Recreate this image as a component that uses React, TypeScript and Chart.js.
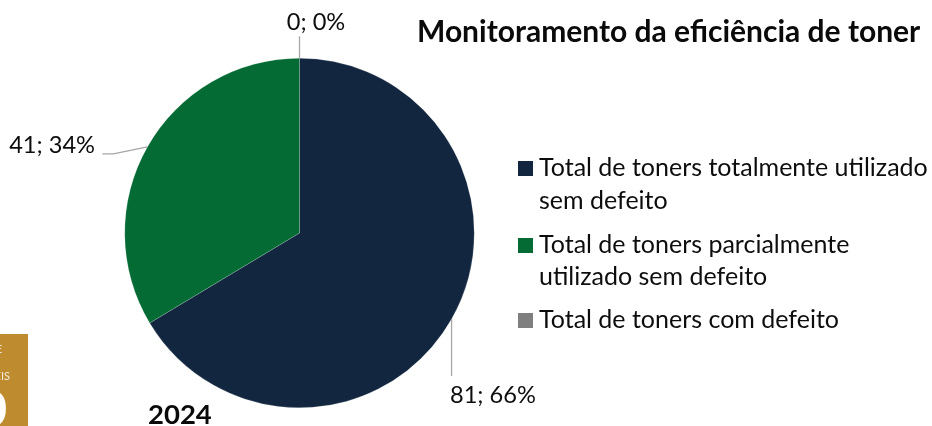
import { useEffect, useRef } from "react";
import { Chart, registerables } from "chart.js";

Chart.register(...registerables);

const categories = [
  "Total de toners totalmente utilizado sem defeito",
  "Total de toners parcialmente utilizado sem defeito",
  "Total de toners com defeito",
];
const legendLines = [
  ["Total de toners totalmente utilizado", "sem defeito"],
  ["Total de toners parcialmente", "utilizado sem defeito"],
  ["Total de toners com defeito"],
];
const values = [81, 41, 0];
const percentages = ["66%", "34%", "0%"];
const colors = ["#12263F", "#056B34", "#7F7F7F"];
const titleText = "Monitoramento da eficiência de toner";
const yearText = "2024";
const badgeLines = ["E", "EIS", "0"];

const FONT = "Lato, Carlito, 'Open Sans', sans-serif";
const TEXT = "#0D0D0D";

const overlay = {
  id: "overlay",
  afterDatasetsDraw(chart: any) {
    const { ctx } = chart;
    const arcs = chart.getDatasetMeta(0).data;
    ctx.save();

    // leader lines start on the slice edge at its mid angle
    const edge = (i: number) => {
      const a = arcs[i].getProps(["x", "y", "startAngle", "endAngle", "outerRadius"], true);
      const mid = (a.startAngle + a.endAngle) / 2;
      return { x: a.x + Math.cos(mid) * a.outerRadius, y: a.y + Math.sin(mid) * a.outerRadius };
    };
    const leaders = [
      { bends: [[0, 57]], lx: 450, ly: 395, align: "left" },
      { bends: [[-34, 7], [-45, 7]], lx: 95, ly: 145, align: "right" },
      { bends: [[0, -22]], lx: 316, ly: 22, align: "center" },
    ];
    ctx.strokeStyle = "#A6A6A6";
    ctx.lineWidth = 1.3;
    ctx.font = `23.6px ${FONT}`;
    ctx.fillStyle = TEXT;
    ctx.textBaseline = "middle";
    leaders.forEach((l, i) => {
      const e = edge(i);
      ctx.beginPath();
      ctx.moveTo(e.x, e.y);
      l.bends.forEach(([dx, dy]) => ctx.lineTo(e.x + dx, e.y + dy));
      ctx.stroke();
      ctx.textAlign = l.align;
      ctx.fillText(`${values[i]}; ${percentages[i]}`, l.lx, l.ly);
    });

    // title
    ctx.textAlign = "left";
    ctx.font = `bold 30px ${FONT}`;
    ctx.fillStyle = "#0A0A0A";
    ctx.fillText(titleText, 417, 32);

    // year
    ctx.font = `bold 27.5px ${FONT}`;
    ctx.fillText(yearText, 148, 415);

    // legend
    const rows = [
      [168, 201],
      [245, 277],
      [320],
    ];
    ctx.font = `25px ${FONT}`;
    legendLines.forEach((lines, i) => {
      ctx.fillStyle = colors[i];
      ctx.fillRect(518, rows[i][0] - 7, 15, 15);
      ctx.fillStyle = TEXT;
      lines.forEach((t, j) => ctx.fillText(t, 539, rows[i][j]));
    });

    // badge
    ctx.fillStyle = "#BE8B2E";
    ctx.fillRect(0, 334, 28, 92);
    ctx.beginPath();
    ctx.rect(0, 334, 28, 92);
    ctx.clip();
    ctx.fillStyle = "#F5EBDA";
    ctx.textAlign = "right";
    ctx.font = `11px ${FONT}`;
    ctx.fillText(badgeLines[0], 2, 349);
    ctx.fillText(badgeLines[1], 10, 376);
    ctx.fillStyle = "#FFFFFF";
    ctx.font = `bold 48px ${FONT}`;
    ctx.fillText(badgeLines[2], 7, 411);
    ctx.restore();
  },
};

export default function App() {
  const ref = useRef<HTMLCanvasElement>(null);
  useEffect(() => {
    const chart = new Chart(ref.current!, {
      type: "pie",
      data: {
        labels: categories,
        datasets: [
          {
            data: values,
            backgroundColor: colors,
            borderColor: "rgba(255,255,255,0.35)",
            borderWidth: 0.5,
          },
        ],
      },
      options: {
        responsive: false,
        animation: false,
        layout: { padding: { left: 124.5, top: 58, right: 457.5, bottom: 18 } },
        plugins: { legend: { display: false }, title: { display: false }, tooltip: { enabled: false } },
      },
      plugins: [overlay],
    } as any);
    return () => chart.destroy();
  }, []);
  return (
    <div style={{ position: "fixed", left: 0, top: 0, width: 932, height: 426, background: "#fff" }}>
      <canvas ref={ref} width={932} height={426} style={{ display: "block" }} />
    </div>
  );
}
